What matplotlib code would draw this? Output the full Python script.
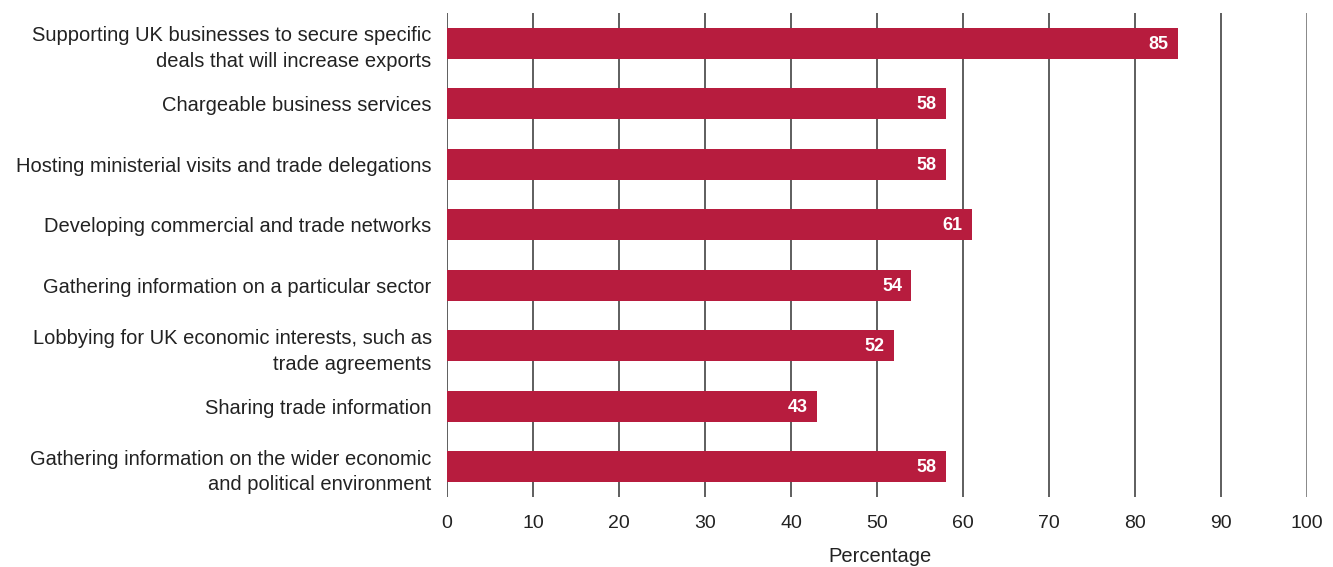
import matplotlib
matplotlib.use("Agg")
import matplotlib.pyplot as plt
import numpy as np

categories = [
    "Supporting UK businesses to secure specific\ndeals that will increase exports",
    "Chargeable business services",
    "Hosting ministerial visits and trade delegations",
    "Developing commercial and trade networks",
    "Gathering information on a particular sector",
    "Lobbying for UK economic interests, such as\ntrade agreements",
    "Sharing trade information",
    "Gathering information on the wider economic\nand political environment",
]
values = [85, 58, 58, 61, 54, 52, 43, 58]
xticks = [0, 10, 20, 30, 40, 50, 60, 70, 80, 90, 100]

bar_color = "#B71C3E"
text_color = "#222222"

plt.rcParams['font.family'] = ['Liberation Sans', 'DejaVu Sans']

fig = plt.figure(figsize=(13.33, 5.67), dpi=100)
ax = fig.add_axes([447/1333, 1 - 497/567, (1307-447)/1333, (497-13)/567])

y = np.arange(len(categories))

# gridlines behind the bars
for t in xticks[:-1]:
    ax.axvline(t, color="#333333", linewidth=1.1, zorder=0)
ax.axvline(100, color="#888888", linewidth=1.4, zorder=0)

ax.barh(y, values, height=0.51, color=bar_color, zorder=2)

for yi, v in zip(y, values):
    ax.text(v - 1.1, yi + 0.02, str(v), color="white", fontsize=13, fontweight="bold",
            ha="right", va="center", zorder=3)

ax.set_xlim(0, 100)
ax.set_ylim(len(categories) - 0.5, -0.5)
ax.set_yticks(y)
ax.set_yticklabels(categories, fontsize=14.5, color=text_color,
                   linespacing=1.45, multialignment="right")
ax.set_xticks(xticks)
ax.set_xticklabels([str(t) for t in xticks], fontsize=14, color=text_color)
ax.tick_params(axis="y", length=0, pad=11)
ax.tick_params(axis="x", length=0, pad=13)

for s in ["top", "right", "bottom", "left"]:
    ax.spines[s].set_visible(False)

fig.text(880/1333, 1 - 557/567, "Percentage", fontsize=14.5, color=text_color,
         ha="center", va="center")

fig.savefig("out.png", dpi=100)
plt.close(fig)
